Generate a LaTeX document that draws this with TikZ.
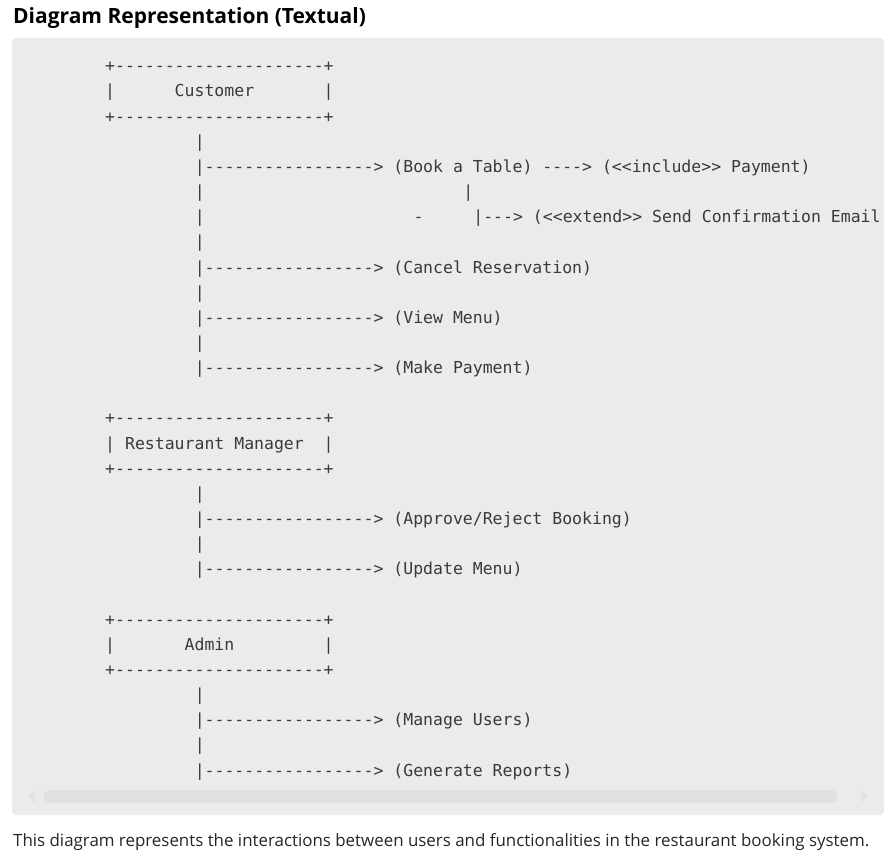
\documentclass[tikz,border=0pt]{standalone}
\usepackage{fontspec}
\setmainfont{Open Sans}
\setmonofont{DejaVu Sans Mono}
\usepackage{tikz}

\definecolor{codebg}{HTML}{EBEBEB}
\definecolor{codetext}{HTML}{3A3A3A}
\definecolor{barfill}{HTML}{E0E0E0}

\tikzset{
  code/.style={anchor=base west,inner sep=0pt,text=codetext,
    font=\ttfamily\frenchspacing\fontsize{16.5}{20}\selectfont},
  prose/.style={anchor=base west,inner sep=0pt}
}

\begin{document}
\begin{tikzpicture}[x=1pt,y=-1pt]
\useasboundingbox (0,0) rectangle (893,860);
% block and scroll bar
\fill [codebg,rounded corners=4pt] (12,38) rectangle (884,815);
\fill [barfill,rounded corners=6pt] (44,790) rectangle (837,803);
\fill [barfill!70!codebg] (35,790) -- (28,796.5) -- (35,803) -- cycle;
\fill [barfill!70!codebg] (861,790) -- (868,796.5) -- (861,803) -- cycle;

\node [prose,font=\bfseries\fontsize{21}{25}\selectfont] (title) at (13,23) {Diagram Representation (Textual)};

% customer
\node [code] (custtop) at (105,71.8) {+---------------------+};
\node [code] (cust) at (105,96.95) {|~~~~~~Customer~~~~~~~|};
\node [code] (custbot) at (105,122.1) {+---------------------+};
\node [code] (c1) at (194.55,147.25) {|};
\node [code] (book) at (194.55,172.4) {|-----------------> (Book a Table) ----> (<<include>> Payment)};
\node [code] (c2) at (194.55,197.55) {|};
\node [code] (b1) at (463.2,197.55) {|};
\node [code] (c3) at (194.55,222.7) {|};
\node [code] (dash) at (413.45,222.7) {-};
\node [code] (email) at (473.15,222.7) {|---> (<<extend>> Send Confirmation Email};
\node [code] (c4) at (194.55,247.85) {|};
\node [code] (cancel) at (194.55,273) {|-----------------> (Cancel Reservation)};
\node [code] (c5) at (194.55,298.15) {|};
\node [code] (view) at (194.55,323.3) {|-----------------> (View Menu)};
\node [code] (c6) at (194.55,348.45) {|};
\node [code] (pay) at (194.55,373.6) {|-----------------> (Make Payment)};

% manager
\node [code] (mgrtop) at (105,423.9) {+---------------------+};
\node [code] (mgr) at (105,449.05) {|~Restaurant~Manager~~|};
\node [code] (mgrbot) at (105,474.2) {+---------------------+};
\node [code] (m1) at (194.55,499.35) {|};
\node [code] (approve) at (194.55,524.5) {|-----------------> (Approve/Reject Booking)};
\node [code] (m2) at (194.55,549.65) {|};
\node [code] (update) at (194.55,574.8) {|-----------------> (Update Menu)};

% admin
\node [code] (admtop) at (105,625.1) {+---------------------+};
\node [code] (adm) at (105,650.25) {|~~~~~~~Admin~~~~~~~~~|};
\node [code] (admbot) at (105,675.4) {+---------------------+};
\node [code] (a1) at (194.55,700.55) {|};
\node [code] (users) at (194.55,725.7) {|-----------------> (Manage Users)};
\node [code] (a2) at (194.55,750.85) {|};
\node [code] (reports) at (194.55,776) {|-----------------> (Generate Reports)};

\node [prose,text=black!85,font=\fontsize{16.9}{20}\selectfont] (caption) at (13,846) {This diagram represents the interactions between users and functionalities in the restaurant booking system.};
\end{tikzpicture}
\end{document}
